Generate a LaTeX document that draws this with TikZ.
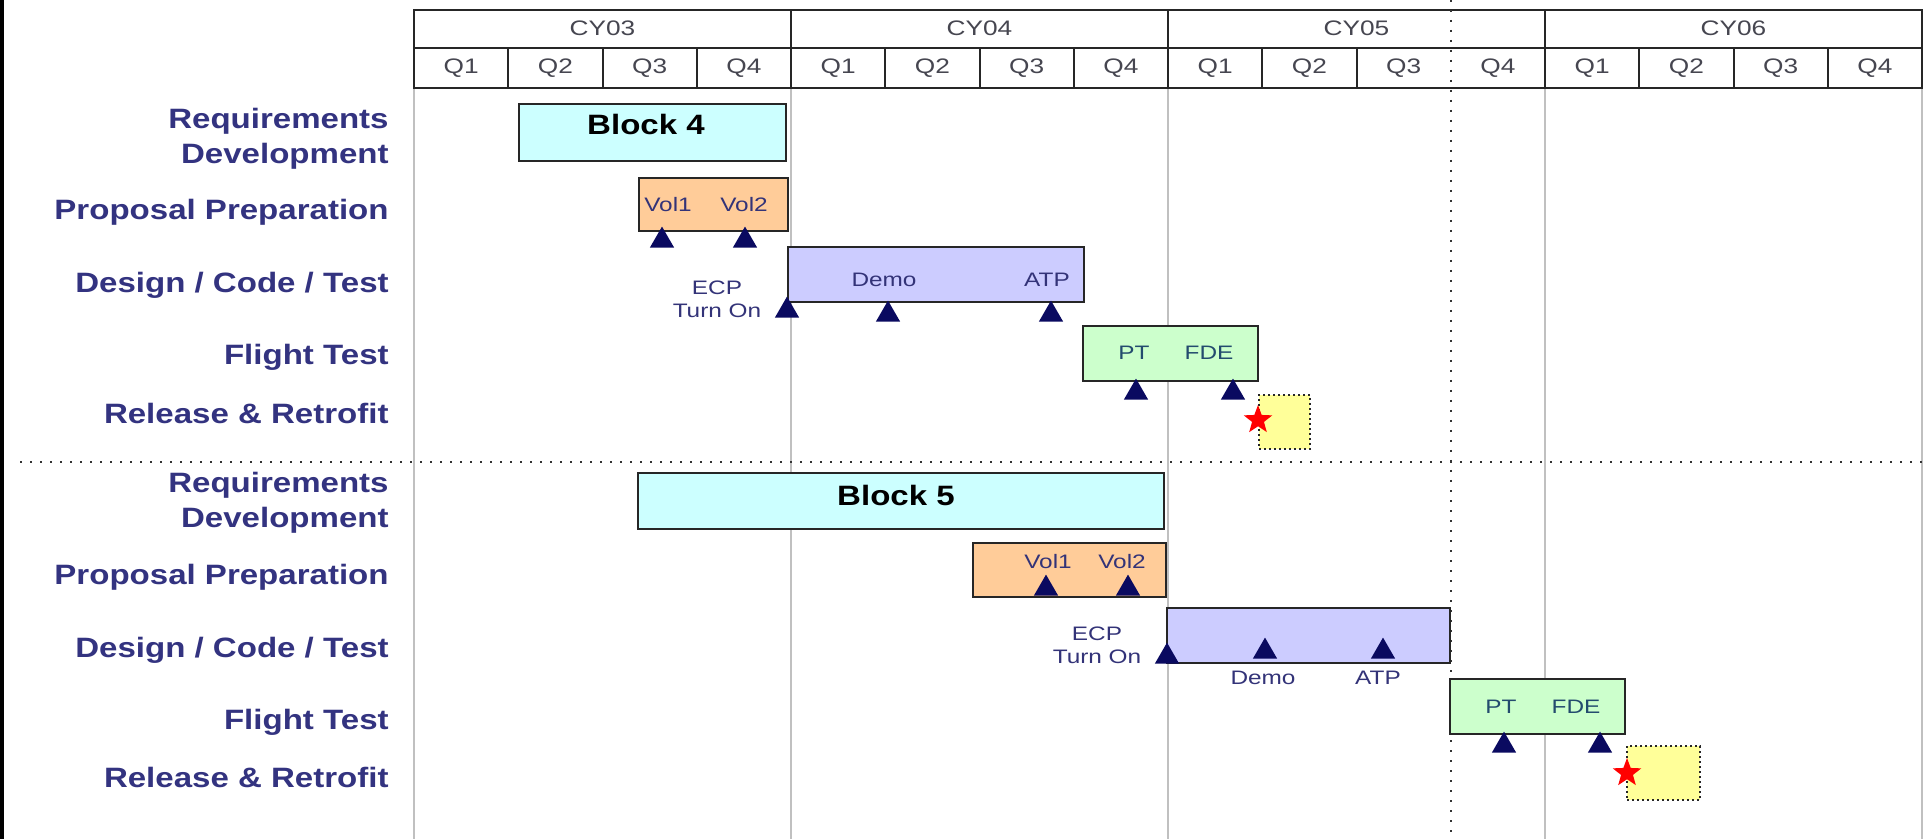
\documentclass[tikz,border=0pt]{standalone}
\usepackage{fontspec}
\setmainfont{Liberation Sans}
\newfontfamily\rowfont[FakeStretch=1.18]{Liberation Sans}
\newfontfamily\chipfont[FakeStretch=1.25]{Liberation Sans}
\usetikzlibrary{shapes.geometric,fit}

\definecolor{rownavy}{RGB}{51,51,128}
\definecolor{msnavy}{RGB}{10,10,96}
\definecolor{reqcyan}{RGB}{204,255,255}
\definecolor{proppeach}{RGB}{255,204,153}
\definecolor{dctlav}{RGB}{204,204,255}
\definecolor{ftgreen}{RGB}{204,255,204}
\definecolor{relyellow}{RGB}{255,255,153}
\definecolor{gridgray}{RGB}{192,192,192}
\definecolor{headgray}{RGB}{70,70,80}
\definecolor{chipblue}{RGB}{51,51,120}
\definecolor{ftteal}{RGB}{35,75,110}

\begin{document}
\begin{tikzpicture}[x=0.5pt,y=-0.5pt,
  rowlabel/.style={font=\rowfont\bfseries\fontsize{14}{17.5}\selectfont,text=rownavy,inner sep=0pt,align=right},
  blocktext/.style={font=\rowfont\bfseries\fontsize{14}{17}\selectfont,inner sep=0pt,anchor=base},
  headtext/.style={font=\chipfont\fontsize{10.5}{12}\selectfont,text=headgray,inner sep=0pt,anchor=base},
  chip/.style={font=\chipfont\fontsize{9.75}{11.5}\selectfont,text=chipblue,inner sep=0pt,anchor=base},
  headline/.style={black!85,line width=1pt},
  gridline/.style={gridgray,line width=1pt},
  sepline/.style={black!80,line width=1pt,dash pattern=on 1pt off 4pt},
  bar/.style={draw=black!85,line width=1pt,inner sep=0pt},
  reqbar/.style={bar,fill=reqcyan},
  propbar/.style={bar,fill=proppeach},
  dctbar/.style={bar,fill=dctlav},
  ftbar/.style={bar,fill=ftgreen},
  relbox/.style={draw=black!85,fill=relyellow,line width=1pt,dash pattern=on 1pt off 1.5pt,inner sep=0pt},
  mstone/.style={regular polygon,regular polygon sides=3,fill=msnavy,inner sep=0pt,minimum size=14pt,anchor=south},
  goal/.style={star,star points=5,star point ratio=2.4,fill=red,inner sep=0pt,minimum size=15pt}]

  \useasboundingbox (0,0) rectangle (1927,839);
  \fill[white] (0,0) rectangle (1927,839);
  \fill[black] (0,0) rectangle (4,839);

  % year grid
  \foreach \i in {0,...,4}
    \draw[gridline] ({414+377*\i},88) -- ({414+377*\i},839);

  % header
  \draw[headline] (414,10) rectangle (1922,88);
  \draw[headline] (414,48) -- (1922,48);
  \foreach \i in {1,2,3}
    \draw[headline] ({414+377*\i},10) -- ({414+377*\i},88);
  \foreach \q in {1,...,10,12,13,14,15}
    \draw[headline] ({414+94.25*\q},48) -- ({414+94.25*\q},88);
  \foreach \yr [count=\i from 0] in {03,04,05,06} {
    \node[headtext] (cy\yr) at ({414+377*\i+188.5},36) {CY\yr};
    \foreach \q in {1,...,4}
      \node[headtext] (q\yr-\q) at ({414+377*\i+94.25*(\q-0.5)},74) {Q\q};
  }

  % block separators
  \draw[sepline] (1451,0) -- (1451,839);
  \draw[sepline] (20,462) -- (1922,462);

  % row labels
  \foreach \dy/\blk in {0/4,364/5} {
    \node[rowlabel,anchor=east] (lab-req-\blk) at (389,138.5+\dy) {Requirements\\Development};
    \node[rowlabel,anchor=base east] (lab-prop-\blk) at (389,220+\dy) {Proposal Preparation};
    \node[rowlabel,anchor=base east] (lab-dct-\blk) at (389,293+\dy) {Design / Code / Test};
    \node[rowlabel,anchor=base east] (lab-ft-\blk) at (389,365+\dy) {Flight Test};
    \node[rowlabel,anchor=base east] (lab-rel-\blk) at (389,423+\dy) {Release \& Retrofit};
  }

  % Block 4
  \node[reqbar,fit={(519,104)(786,161)}] (req4) {};
  \node[propbar,fit={(639,178)(788,231)}] (prop4) {};
  \node[dctbar,fit={(788,247)(1084,302)}] (dct4) {};
  \node[ftbar,fit={(1083,326)(1258,381)}] (ft4) {};
  \node[relbox,fit={(1259,395)(1310,449)}] (rel4) {};
  \node[blocktext] (req4txt) at (646,135) {Block 4};
  \node[chip] (vol4a) at (668,212) {Vol1};
  \node[chip] (vol4b) at (744,212) {Vol2};
  \node[chip] (demo4) at (884,287) {Demo};
  \node[chip] (atp4) at (1047,287) {ATP};
  \node[chip,align=center,anchor=center] (ecp4) at (717,299.5) {ECP\\Turn On};
  \node[chip,text=ftteal] (pt4) at (1134,360) {PT};
  \node[chip,text=ftteal] (fde4) at (1209,360) {FDE};
  \foreach \mx/\my [count=\k] in {662/248,745/248,787/318,888/322,1051/322,1136/400,1233/400}
    \node[mstone] (ms4-\k) at (\mx,\my) {};
  \node[goal] (goal4) at (1258,420) {};

  % Block 5
  \node[reqbar,fit={(638,473)(1164,529)}] (req5) {};
  \node[propbar,fit={(973,543)(1166,597)}] (prop5) {};
  \node[dctbar,fit={(1167,608)(1450,663)}] (dct5) {};
  \node[ftbar,fit={(1450,679)(1625,734)}] (ft5) {};
  \node[relbox,fit={(1627,746)(1700,800)}] (rel5) {};
  \node[blocktext] (req5txt) at (896,505) {Block 5};
  \node[chip] (vol5a) at (1048,568) {Vol1};
  \node[chip] (vol5b) at (1122,568) {Vol2};
  \node[chip,align=center,anchor=center] (ecp5) at (1097,645) {ECP\\Turn On};
  \node[chip] (demo5) at (1263,684) {Demo};
  \node[chip] (atp5) at (1378,684) {ATP};
  \node[chip,text=ftteal] (pt5) at (1501,713) {PT};
  \node[chip,text=ftteal] (fde5) at (1576,713) {FDE};
  \foreach \mx/\my [count=\k] in {1046/596,1128/596,1167/664,1265/659,1383/659,1504/753,1600/753}
    \node[mstone] (ms5-\k) at (\mx,\my) {};
  \node[goal] (goal5) at (1627,773) {};
\end{tikzpicture}
\end{document}
